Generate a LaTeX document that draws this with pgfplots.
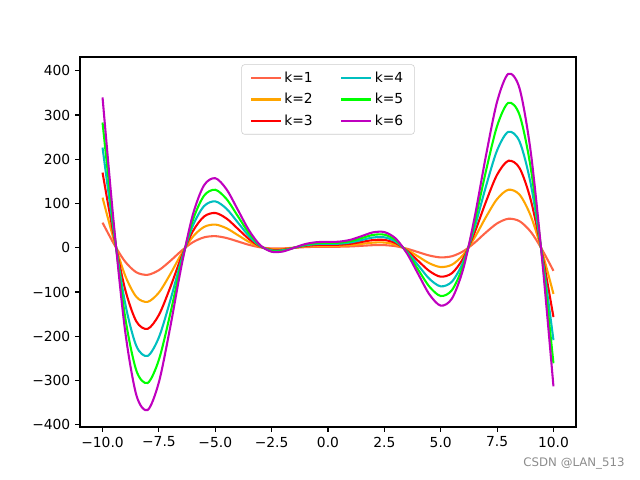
\documentclass[border=0pt]{standalone}
\usepackage{fontspec}
\setmainfont{DejaVu Sans}
\usepackage{pgfplots}
\usepackage{pgfplotstable}
\pgfplotsset{compat=1.18}
\definecolor{c1}{HTML}{FF6347}
\definecolor{c2}{HTML}{FFA500}
\definecolor{c3}{HTML}{FF0000}
\definecolor{c4}{HTML}{00BFBF}
\definecolor{c5}{HTML}{00FF00}
\definecolor{c6}{HTML}{BF00BF}
\pgfplotstableread{
x k1 k2 k3 k4 k5 k6
-10 56.6 113.2 169.8 226.4 283.0 339.6
-9.5 9.0 18.0 27.0 36.0 45.0 54.0
-9 -31.2 -62.4 -93.6 -124.8 -156.0 -187.2
-8.5 -55.5 -111.0 -166.5 -222.0 -277.5 -333.0
-8 -61.1 -122.2 -183.3 -244.4 -305.5 -366.6
-7.5 -50.6 -101.2 -151.8 -202.4 -253.0 -303.6
-7 -30.0 -60.0 -90.0 -120.0 -150.0 -180.0
-6.5 -6.9 -13.8 -20.7 -27.6 -34.5 -41.4
-6 12.3 24.6 36.9 49.2 61.5 73.8
-5.5 23.5 47.0 70.5 94.0 117.5 141.0
-5 26.2 52.4 78.6 104.8 131.0 157.2
-4.5 22.0 44.0 66.0 88.0 110.0 132.0
-4 14.3 28.6 42.9 57.2 71.5 85.8
-3.5 6.5 13.0 19.5 26.0 32.5 39.0
-3 0.9 1.8 2.7 3.6 4.5 5.4
-2.5 -1.5 -3.0 -4.5 -6.0 -7.5 -9.0
-2 -1.4 -2.8 -4.2 -5.6 -7.0 -8.4
-1.5 0.0 0.0 0.0 0.0 0.0 0.0
-1 1.4 2.8 4.2 5.6 7.0 8.4
-0.5 2.1 4.2 6.3 8.4 10.5 12.6
0 2.2 4.4 6.6 8.8 11.0 13.2
0.5 2.3 4.6 6.9 9.2 11.5 13.8
1 3.0 6.0 9.0 12.0 15.0 18.0
1.5 4.4 8.8 13.2 17.6 22.0 26.4
2 5.8 11.6 17.4 23.2 29.0 34.8
2.5 5.9 11.8 17.7 23.6 29.5 35.4
3 3.5 7.0 10.5 14.0 17.5 21.0
3.5 -2.1 -4.2 -6.3 -8.4 -10.5 -12.6
4 -9.9 -19.8 -29.7 -39.6 -49.5 -59.4
4.5 -17.6 -35.2 -52.8 -70.4 -88.0 -105.6
5 -21.8 -43.6 -65.4 -87.2 -109.0 -130.8
5.5 -19.1 -38.2 -57.3 -76.4 -95.5 -114.6
6 -7.9 -15.8 -23.7 -31.6 -39.5 -47.4
6.5 11.3 22.6 33.9 45.2 56.5 67.8
7 34.4 68.8 103.2 137.6 172.0 206.4
7.5 55.0 110.0 165.0 220.0 275.0 330.0
8 65.5 131.0 196.5 262.0 327.5 393.0
8.5 59.9 119.8 179.7 239.6 299.5 359.4
9 35.6 71.2 106.8 142.4 178.0 213.6
9.5 -4.6 -9.2 -13.8 -18.4 -23.0 -27.6
10 -52.2 -104.4 -156.6 -208.8 -261.0 -313.2
}\data
\begin{document}
\begin{tikzpicture}
\path[use as bounding box] (-0.80in,-0.53in) rectangle (5.60in,4.27in);
\begin{axis}[
  at={(0,0)}, anchor=south west,
  scale only axis, width=4.96in, height=3.70in,
  xmin=-11, xmax=11, ymin=-405, ymax=431,
  axis line style={line width=0.8pt},
  tick style={line width=0.8pt, black},
  tick align=outside, major tick length=3.5pt,
  xtick pos=bottom, ytick pos=left,
  xtick={-10,-7.5,-5,-2.5,0,2.5,5,7.5,10},
  xticklabels={−10.0,−7.5,−5.0,−2.5,0.0,2.5,5.0,7.5,10.0},
  ytick={-400,-300,-200,-100,0,100,200,300,400},
  yticklabels={−400,−300,−200,−100,0,100,200,300,400},
  ticklabel style={font=\fontsize{10}{12}\selectfont},
  legend columns=3, transpose legend,
  legend style={at={(0.5,0.98)}, anchor=north, draw=black!20, rounded corners=2pt,
    font=\fontsize{10}{12}\selectfont, inner xsep=6pt, inner ysep=3pt,
    /tikz/every even column/.append style={column sep=18pt},
    row sep=2.5pt},
  legend cell align=left,
  legend image code/.code={\draw[#1, line width=1.5pt] (0cm,0cm) -- (0.75cm,0cm);},
  every axis plot/.append style={line width=1.5pt, smooth},
]
\addplot[c1] table[x=x,y=k1]{\data};
\addlegendentry{k=1}
\addplot[c2] table[x=x,y=k2]{\data};
\addlegendentry{k=2}
\addplot[c3] table[x=x,y=k3]{\data};
\addlegendentry{k=3}
\addplot[c4] table[x=x,y=k4]{\data};
\addlegendentry{k=4}
\addplot[c5] table[x=x,y=k5]{\data};
\addlegendentry{k=5}
\addplot[c6] table[x=x,y=k6]{\data};
\addlegendentry{k=6}
\end{axis}
\node[text=black!45, font=\fontsize{8.5}{10}\selectfont] at (4.94in,-0.37in) {CSDN @LAN\_513};
\end{tikzpicture}
\end{document}
